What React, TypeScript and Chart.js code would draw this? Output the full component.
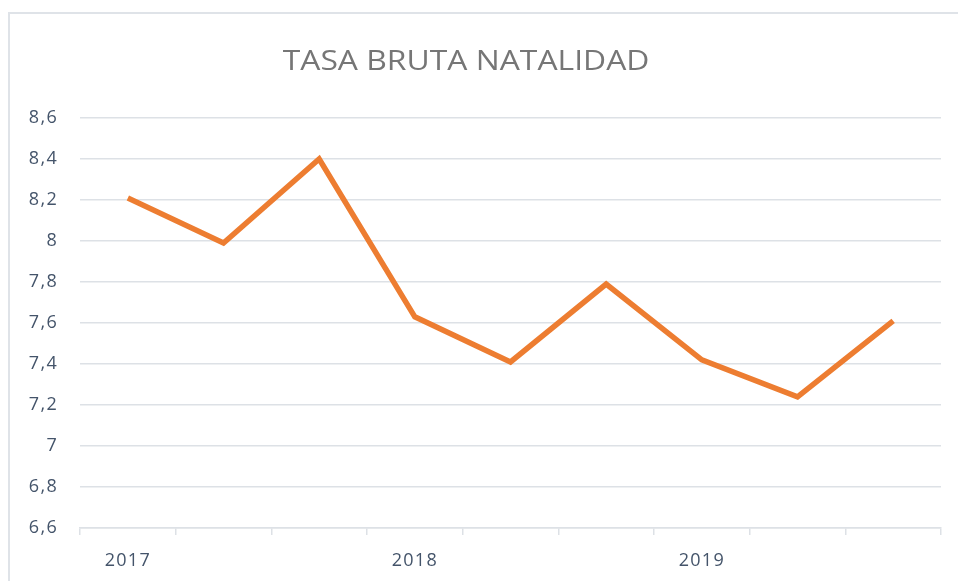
import React, { useEffect, useRef } from "react";
import { Chart, registerables } from "chart.js";

Chart.register(...registerables);

const categories = ["2017", "", "", "2018", "", "", "2019", "", ""];
const birthRate = [8.21, 7.99, 8.4, 7.63, 7.41, 7.79, 7.42, 7.24, 7.61];
const yMin = 6.6;
const yMax = 8.6;
const yStep = 0.2;
const titleText = "TASA BRUTA NATALIDAD";

const textSpacingPlugin = {
  id: "textSpacing",
  beforeDraw(chart: any) {
    (chart.ctx as any).letterSpacing = "1.3px";
  },
  afterDraw(chart: any) {
    const ctx = chart.ctx as any;
    ctx.letterSpacing = "0px";
    // Title (drawn as real text)
    ctx.save();
    ctx.font = "27px 'Open Sans'";
    ctx.fillStyle = "#767676";
    ctx.textAlign = "center";
    ctx.textBaseline = "alphabetic";
    ctx.letterSpacing = "0px";
    const cx = chart.width * 0.4865;
    ctx.translate(cx, 70);
    ctx.scale(1.18, 1);
    ctx.fillText(titleText, 0, 0);
    ctx.restore();
    ctx.letterSpacing = "0px";
  },
};

export default function App() {
  const canvasRef = useRef<HTMLCanvasElement | null>(null);

  useEffect(() => {
    document.body.style.margin = "0";
    const canvas = canvasRef.current;
    if (!canvas) return;
    const chart = new Chart(canvas, {
      type: "line",
      data: {
        labels: categories,
        datasets: [
          {
            data: birthRate,
            borderColor: "#ED7D31",
            backgroundColor: "#ED7D31",
            borderWidth: 5.5,
            pointRadius: 0,
            tension: 0,
            borderJoinStyle: "miter",
            borderCapStyle: "butt",
          },
        ],
      },
      options: {
        animation: false,
        responsive: false,
        maintainAspectRatio: false,
        layout: { padding: { top: 118, right: 17, bottom: 0, left: 0 } },
        plugins: {
          legend: { display: false },
          tooltip: { enabled: false },
          title: { display: false },
        },
        scales: {
          x: {
            offset: true,
            grid: {
              offset: true,
              drawOnChartArea: false,
              drawTicks: true,
              tickLength: 7,
              color: "#dde1e6",
              lineWidth: 1.5,
            },
            border: { display: true, color: "#dde1e6", width: 1.5 },
            ticks: {
              autoSkip: false,
              maxRotation: 0,
              padding: 15,
              color: "#44546A",
              font: { family: "'Open Sans'", size: 18 },
            },
            afterFit: (scale: any) => {
              scale.height = 53;
            },
          },
          y: {
            min: yMin,
            max: yMax,
            grid: {
              drawTicks: false,
              color: "#dde1e6",
              lineWidth: 1.5,
            },
            border: { display: false },
            ticks: {
              stepSize: yStep,
              padding: 22,
              color: "#44546A",
              font: { family: "'Open Sans'", size: 18 },
              callback: (v: any) =>
                String(Number(Number(v).toFixed(1))).replace(".", ","),
            },
            afterFit: (scale: any) => {
              scale.width = 80;
            },
          },
        },
      },
      plugins: [textSpacingPlugin],
    });
    return () => chart.destroy();
  }, []);

  return (
    <div
      style={{
        position: "relative",
        width: 958,
        height: 581,
        overflow: "hidden",
        background: "#fff",
      }}
    >
      <div
        style={{
          position: "absolute",
          left: 8,
          top: 12,
          width: 1000,
          height: 700,
          borderLeft: "2px solid #dfe3e8",
          borderTop: "2px solid #dfe3e8",
          boxSizing: "border-box",
        }}
      />
      <canvas
        ref={canvasRef}
        width={958}
        height={581}
        style={{ position: "absolute", left: 0, top: 0, display: "block" }}
      />
    </div>
  );
}
